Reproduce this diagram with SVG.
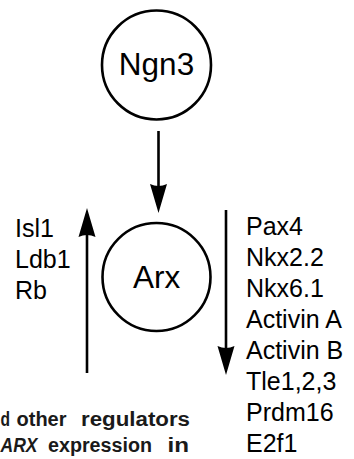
<svg xmlns="http://www.w3.org/2000/svg" width="354" height="459" viewBox="0 0 354 459">
<style>
.node{fill:#fff;stroke:#000;stroke-width:2.6}
.nt{font-family:"Liberation Sans",Arial,sans-serif;font-size:31.5px;text-anchor:middle;fill:#000}
.lab{font-family:"Liberation Sans",Arial,sans-serif;font-size:25px;fill:#000}
.cap{font-family:"Liberation Sans",Arial,sans-serif;font-size:20px;font-weight:bold;fill:#1a1a1a}
.edge{stroke:#000;stroke-width:2.6;fill:none;marker-end:url(#ah)}
</style>
<defs>
<marker id="ah" markerUnits="userSpaceOnUse" markerWidth="30" markerHeight="18" viewBox="0 -9 30 18" refX="11" refY="0" orient="auto">
<path d="M0,-8.5 L29,0 L0,8.5 Q4,0 0,-8.5 Z" fill="#000"/>
</marker>
</defs>
<rect width="354" height="459" fill="#fff"/>
<g id="connectors">
<line class="edge" x1="158.5" y1="131" x2="158.5" y2="195"/>
<line class="edge" x1="87" y1="373" x2="87" y2="226"/>
<line class="edge" x1="226" y1="210" x2="226" y2="357"/>
</g>
<g id="node-ngn3">
<circle class="node" cx="156.5" cy="65" r="54.5"/>
<text class="nt" x="156.5" y="74.5">Ngn3</text>
</g>
<g id="node-arx">
<circle class="node" cx="156.5" cy="277" r="54"/>
<text class="nt" x="156.5" y="287.5">Arx</text>
</g>
<g id="upstream-labels">
<text class="lab" x="15" y="236.5">Isl1</text>
<text class="lab" x="15" y="267.5">Ldb1</text>
<text class="lab" x="15" y="298.5">Rb</text>
</g>
<g id="downstream-labels">
<text class="lab" x="246" y="235">Pax4</text>
<text class="lab" x="246" y="266">Nkx2.2</text>
<text class="lab" x="246" y="297">Nkx6.1</text>
<text class="lab" x="246" y="328">Activin A</text>
<text class="lab" x="246" y="359">Activin B</text>
<text class="lab" x="246" y="390">Tle1,2,3</text>
<text class="lab" x="246" y="421">Prdm16</text>
<text class="lab" x="246" y="452">E2f1</text>
</g>
<g id="caption">
<text class="cap" x="0.5" y="426" textLength="9.5" lengthAdjust="spacingAndGlyphs">d</text>
<text class="cap" x="16.5" y="426" textLength="50" lengthAdjust="spacingAndGlyphs">other</text>
<text class="cap" x="81" y="426" textLength="109" lengthAdjust="spacingAndGlyphs">regulators</text>
<text class="cap" x="0.5" y="452" font-style="italic" textLength="37" lengthAdjust="spacingAndGlyphs">ARX</text>
<text class="cap" x="48" y="452" textLength="104" lengthAdjust="spacingAndGlyphs">expression</text>
<text class="cap" x="167.5" y="452" textLength="21.5" lengthAdjust="spacingAndGlyphs">in</text>
</g>
</svg>
